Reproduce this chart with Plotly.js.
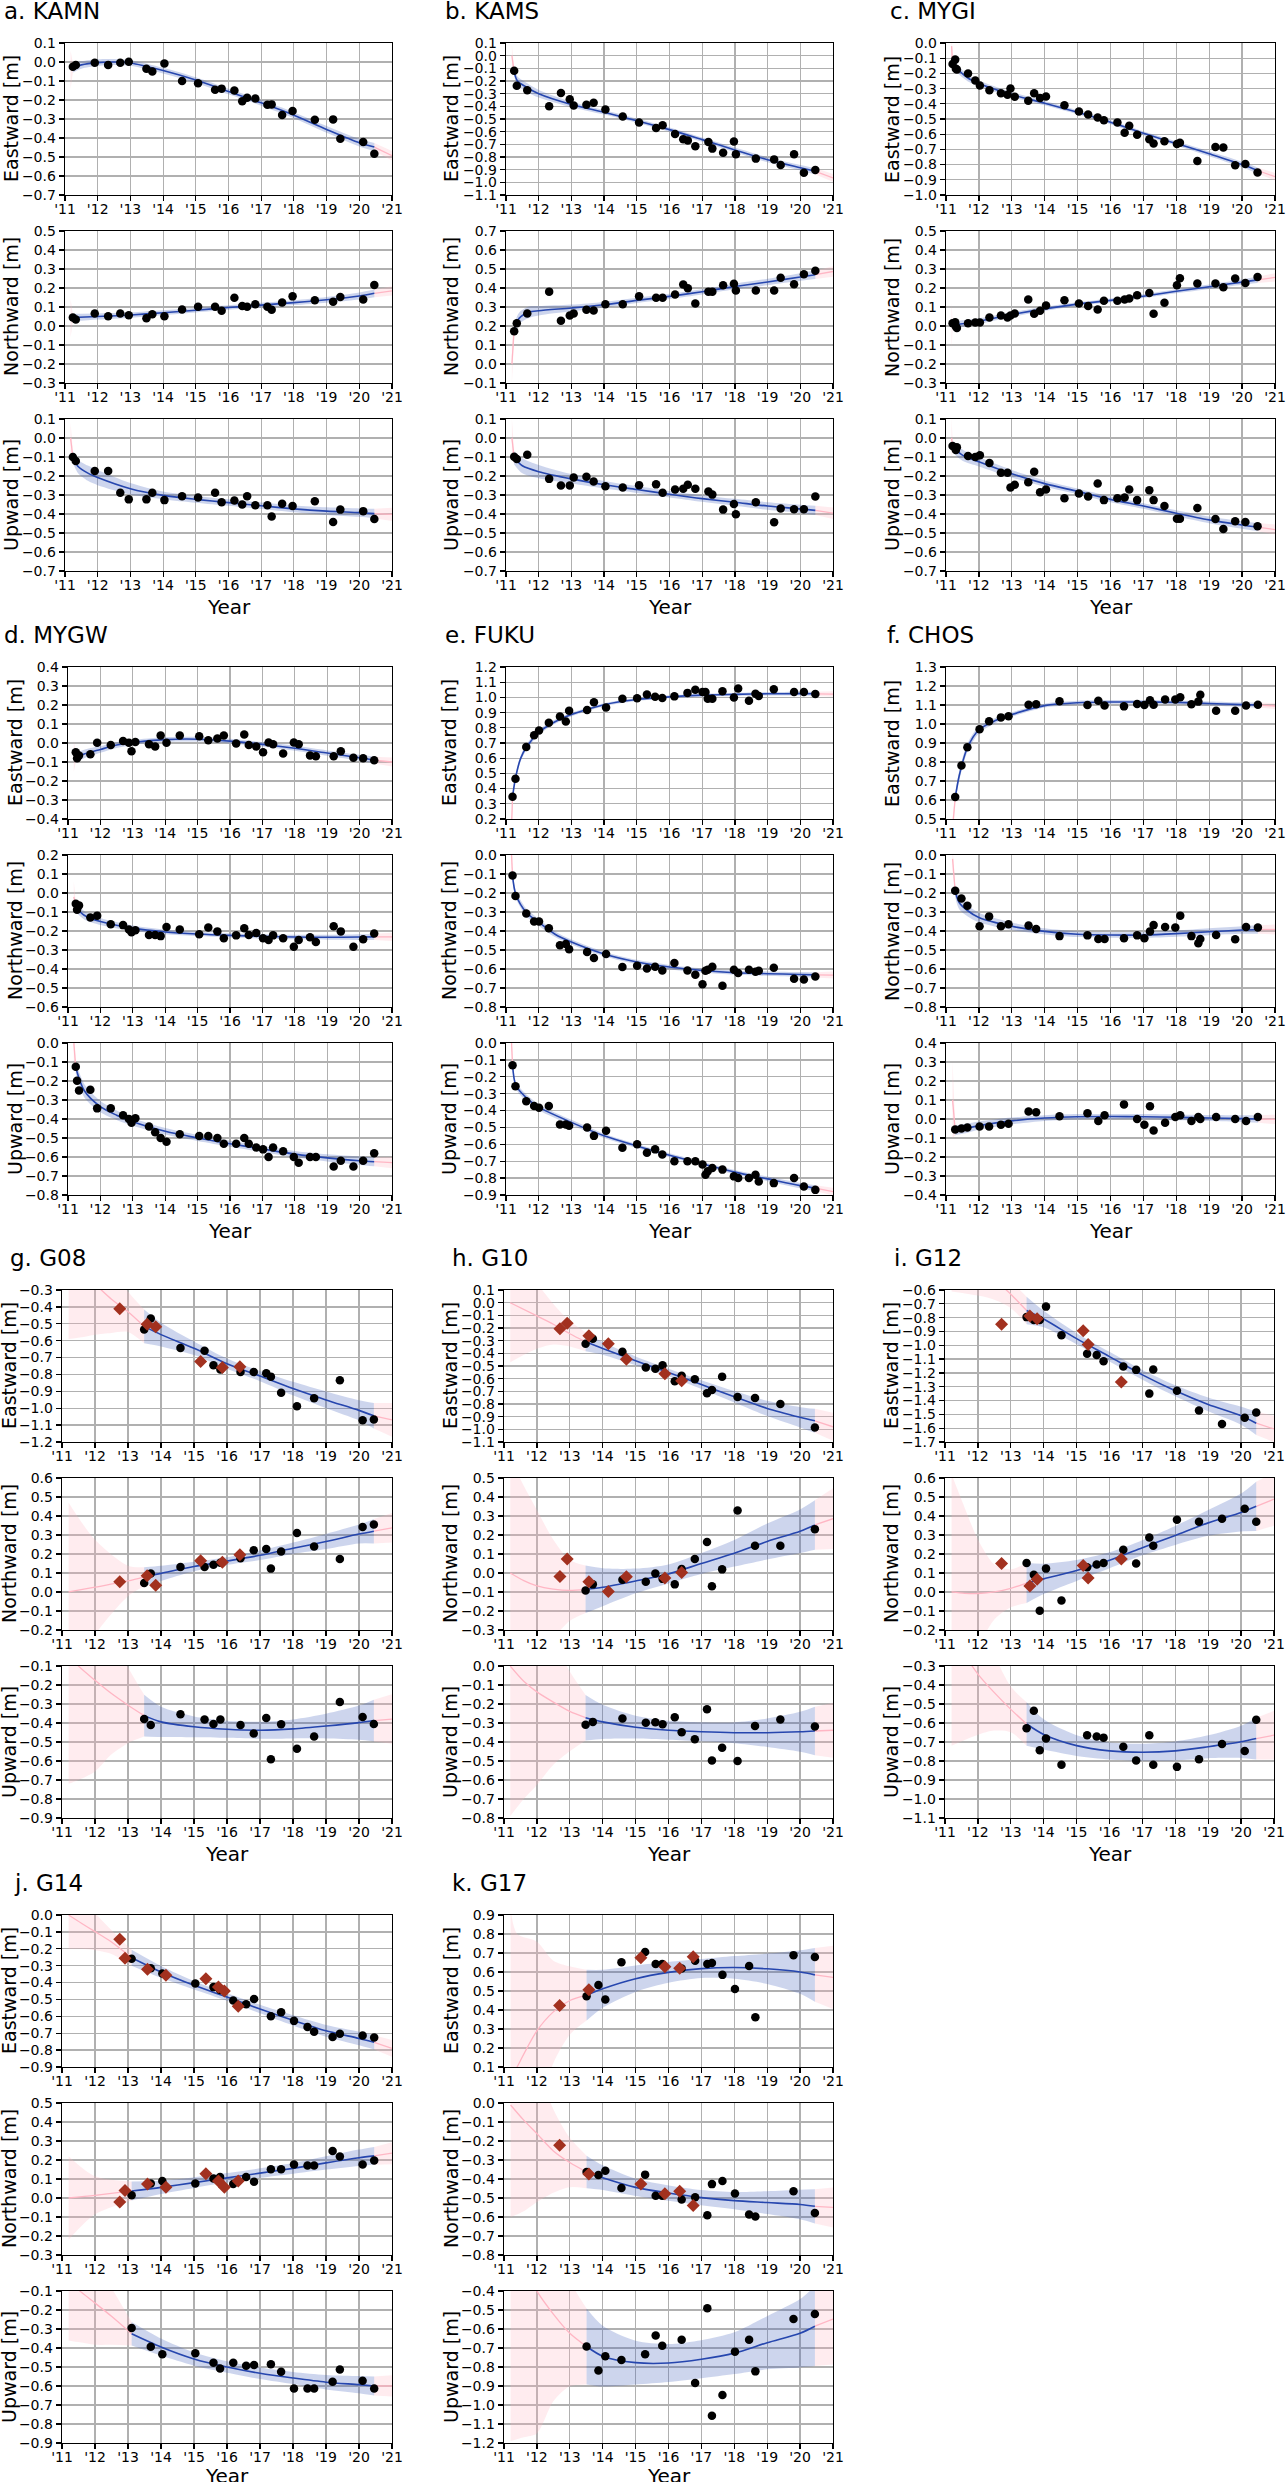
<!DOCTYPE html>
<html>
<head>
<meta charset="utf-8">
<script src="https://cdn.plot.ly/plotly-3.0.1.min.js"></script>
<style>
  html, body { margin: 0; padding: 0; background: #fff; }
  #chart { width: 1286px; height: 2482px; }
</style>
</head>
<body>
<div id="chart"></div>
<script>
// ---- observation epochs (decimal year) and displacements [m] ----
const kamnT = [2011.24, 2011.33, 2011.91, 2012.32, 2012.69, 2012.95, 2013.49, 2013.67, 2014.04, 2014.58, 2015.07, 2015.59, 2015.79, 2016.18, 2016.42, 2016.57, 2016.82, 2017.19, 2017.32, 2017.64, 2017.96, 2018.64, 2019.20, 2019.42, 2020.12, 2020.46];
const kamnE = [-0.025, -0.015, -0.004, -0.015, -0.004, 0.002, -0.035, -0.05, -0.008, -0.1, -0.112, -0.146, -0.14, -0.15, -0.206, -0.188, -0.192, -0.225, -0.223, -0.279, -0.258, -0.304, -0.302, -0.404, -0.421, -0.483];
const kamnN = [0.045, 0.034, 0.066, 0.051, 0.066, 0.056, 0.041, 0.062, 0.051, 0.087, 0.101, 0.101, 0.08, 0.149, 0.105, 0.101, 0.114, 0.101, 0.085, 0.124, 0.156, 0.135, 0.128, 0.153, 0.139, 0.216];
const kamnU = [-0.1, -0.121, -0.173, -0.173, -0.288, -0.323, -0.323, -0.288, -0.327, -0.306, -0.313, -0.288, -0.338, -0.329, -0.35, -0.306, -0.354, -0.354, -0.413, -0.346, -0.358, -0.333, -0.442, -0.377, -0.385, -0.427];

const kamsT = [2011.25, 2011.33, 2011.65, 2012.32, 2012.68, 2012.95, 2013.07, 2013.46, 2013.68, 2014.04, 2014.57, 2015.07, 2015.59, 2015.79, 2016.17, 2016.42, 2016.56, 2016.79, 2017.19, 2017.31, 2017.64, 2017.97, 2018.03, 2018.64, 2019.20, 2019.40, 2019.81, 2020.11, 2020.46];
const kamsE = [-0.119, -0.238, -0.272, -0.4, -0.294, -0.344, -0.394, -0.388, -0.372, -0.425, -0.481, -0.528, -0.572, -0.55, -0.619, -0.659, -0.669, -0.716, -0.681, -0.734, -0.766, -0.678, -0.778, -0.813, -0.819, -0.863, -0.778, -0.925, -0.903];
const kamsN = [0.172, 0.214, 0.266, 0.381, 0.228, 0.255, 0.266, 0.285, 0.282, 0.314, 0.314, 0.356, 0.349, 0.349, 0.366, 0.418, 0.399, 0.318, 0.381, 0.381, 0.414, 0.422, 0.387, 0.387, 0.387, 0.454, 0.42, 0.472, 0.491];
const kamsU = [-0.098, -0.11, -0.088, -0.215, -0.25, -0.25, -0.208, -0.204, -0.229, -0.254, -0.26, -0.248, -0.244, -0.288, -0.271, -0.267, -0.246, -0.267, -0.281, -0.298, -0.377, -0.348, -0.402, -0.338, -0.444, -0.371, -0.375, -0.375, -0.308];

const mygiT = [2011.20, 2011.28, 2011.30, 2011.33, 2011.67, 2011.89, 2012.03, 2012.32, 2012.67, 2012.87, 2012.96, 2013.09, 2013.50, 2013.68, 2013.86, 2014.04, 2014.60, 2015.04, 2015.32, 2015.61, 2015.80, 2016.21, 2016.43, 2016.57, 2016.81, 2017.18, 2017.31, 2017.64, 2018.02, 2018.11, 2018.64, 2019.19, 2019.43, 2019.79, 2020.10, 2020.47];
const mygiE = [-0.138, -0.109, -0.169, -0.174, -0.2, -0.247, -0.279, -0.31, -0.331, -0.341, -0.299, -0.354, -0.38, -0.331, -0.362, -0.352, -0.409, -0.451, -0.471, -0.49, -0.508, -0.523, -0.591, -0.544, -0.604, -0.633, -0.661, -0.646, -0.664, -0.656, -0.776, -0.685, -0.688, -0.805, -0.797, -0.852];
const mygiN = [0.014, 0.02, -0.003, -0.011, 0.014, 0.018, 0.018, 0.045, 0.055, 0.045, 0.055, 0.066, 0.139, 0.064, 0.08, 0.108, 0.135, 0.118, 0.105, 0.087, 0.133, 0.133, 0.139, 0.145, 0.162, 0.174, 0.064, 0.122, 0.214, 0.252, 0.224, 0.224, 0.204, 0.25, 0.227, 0.258];
const mygiU = [-0.042, -0.052, -0.063, -0.048, -0.094, -0.1, -0.09, -0.131, -0.183, -0.183, -0.26, -0.246, -0.233, -0.177, -0.285, -0.271, -0.317, -0.292, -0.308, -0.24, -0.327, -0.317, -0.313, -0.271, -0.327, -0.275, -0.327, -0.358, -0.425, -0.425, -0.369, -0.427, -0.479, -0.438, -0.442, -0.465];

const mygwT = [2011.24, 2011.28, 2011.34, 2011.69, 2011.90, 2012.32, 2012.70, 2012.88, 2012.96, 2013.08, 2013.50, 2013.69, 2013.86, 2014.04, 2014.45, 2015.05, 2015.33, 2015.61, 2015.81, 2016.19, 2016.44, 2016.58, 2016.81, 2017.02, 2017.19, 2017.33, 2017.64, 2017.97, 2018.12, 2018.47, 2018.65, 2019.20, 2019.42, 2019.81, 2020.11, 2020.45];
const mygwE = [-0.049, -0.08, -0.066, -0.059, 0.001, -0.011, 0.01, 0.001, -0.043, 0.005, -0.007, -0.018, 0.039, 0.001, 0.039, 0.035, 0.014, 0.024, 0.039, -0.003, 0.045, -0.011, -0.018, -0.049, 0.003, -0.007, -0.055, 0.003, -0.007, -0.066, -0.07, -0.07, -0.043, -0.078, -0.08, -0.091];
const mygwN = [-0.056, -0.088, -0.065, -0.129, -0.119, -0.165, -0.169, -0.192, -0.206, -0.196, -0.221, -0.221, -0.227, -0.179, -0.192, -0.217, -0.181, -0.202, -0.238, -0.223, -0.185, -0.221, -0.21, -0.238, -0.248, -0.223, -0.238, -0.283, -0.248, -0.233, -0.258, -0.175, -0.202, -0.283, -0.244, -0.213];
const mygwU = [-0.125, -0.198, -0.25, -0.246, -0.344, -0.344, -0.38, -0.40, -0.42, -0.396, -0.44, -0.47, -0.50, -0.52, -0.48, -0.49, -0.49, -0.50, -0.53, -0.53, -0.50, -0.53, -0.55, -0.56, -0.60, -0.55, -0.57, -0.60, -0.63, -0.60, -0.60, -0.65, -0.62, -0.65, -0.62, -0.58];

const fukuT = [2011.20, 2011.29, 2011.62, 2011.86, 2012.01, 2012.31, 2012.65, 2012.83, 2012.93, 2013.48, 2013.69, 2014.06, 2014.56, 2015.01, 2015.31, 2015.56, 2015.78, 2016.15, 2016.55, 2016.79, 2017.01, 2017.10, 2017.17, 2017.31, 2017.62, 2017.97, 2018.10, 2018.43, 2018.63, 2018.73, 2019.19, 2019.81, 2020.11, 2020.46];
const fukuE = [0.346, 0.464, 0.673, 0.751, 0.782, 0.834, 0.874, 0.842, 0.913, 0.918, 0.968, 0.934, 0.991, 0.994, 1.02, 1.004, 0.996, 1.007, 1.03, 1.051, 1.036, 1.036, 0.991, 0.991, 1.041, 0.999, 1.059, 0.978, 1.025, 1.009, 1.054, 1.036, 1.036, 1.022];
const fukuN = [-0.108, -0.215, -0.308, -0.35, -0.35, -0.385, -0.475, -0.469, -0.496, -0.51, -0.542, -0.521, -0.59, -0.583, -0.598, -0.588, -0.608, -0.569, -0.608, -0.631, -0.681, -0.61, -0.604, -0.588, -0.688, -0.604, -0.621, -0.604, -0.615, -0.61, -0.594, -0.652, -0.656, -0.64];
const fukuU = [-0.131, -0.256, -0.345, -0.373, -0.384, -0.373, -0.483, -0.483, -0.49, -0.50, -0.55, -0.52, -0.62, -0.60, -0.65, -0.63, -0.66, -0.70, -0.70, -0.70, -0.72, -0.78, -0.76, -0.74, -0.75, -0.79, -0.80, -0.80, -0.78, -0.82, -0.83, -0.80, -0.85, -0.87];

const chosT = [2011.28, 2011.47, 2011.65, 2012.02, 2012.31, 2012.67, 2012.90, 2013.51, 2013.74, 2014.45, 2015.30, 2015.63, 2015.82, 2016.41, 2016.81, 2017.03, 2017.20, 2017.31, 2017.66, 2017.97, 2018.12, 2018.46, 2018.67, 2018.73, 2019.21, 2019.79, 2020.12, 2020.48];
const chosE = [0.615, 0.782, 0.878, 0.972, 1.014, 1.035, 1.041, 1.102, 1.104, 1.12, 1.1, 1.123, 1.097, 1.093, 1.106, 1.1, 1.125, 1.102, 1.129, 1.129, 1.141, 1.104, 1.118, 1.154, 1.07, 1.07, 1.097, 1.102];
const chosN = [-0.188, -0.229, -0.267, -0.375, -0.323, -0.375, -0.365, -0.371, -0.39, -0.427, -0.423, -0.442, -0.442, -0.438, -0.423, -0.438, -0.402, -0.369, -0.379, -0.381, -0.319, -0.427, -0.465, -0.442, -0.421, -0.444, -0.379, -0.381];
const chosU = [-0.055, -0.05, -0.045, -0.04, -0.04, -0.03, -0.025, 0.04, 0.035, 0.015, 0.03, -0.01, 0.02, 0.077, 0.0, -0.03, 0.067, -0.06, -0.02, 0.01, 0.02, -0.01, 0.01, 0.0, 0.01, 0.0, -0.01, 0.01];

// GNSS-A sites: black = campaign solutions, red = earlier solutions
const g08T = [2013.49, 2013.69, 2014.59, 2015.32, 2015.59, 2015.80, 2016.41, 2016.81, 2017.19, 2017.33, 2017.64, 2018.12, 2018.64, 2019.42, 2020.11, 2020.45];
const g08E = [-0.534, -0.468, -0.643, -0.66, -0.746, -0.771, -0.786, -0.786, -0.793, -0.813, -0.909, -0.988, -0.941, -0.835, -1.072, -1.067];
const g08N = [0.047, 0.097, 0.132, 0.132, 0.143, 0.154, 0.178, 0.22, 0.226, 0.123, 0.213, 0.311, 0.239, 0.174, 0.342, 0.355];
const g08U = [-0.379, -0.411, -0.354, -0.381, -0.405, -0.381, -0.411, -0.455, -0.374, -0.591, -0.407, -0.536, -0.471, -0.289, -0.368, -0.405];
const g08Td = [2012.75, 2013.58, 2013.84, 2015.20, 2015.86, 2016.39];
const g08Ed = [-0.411, -0.502, -0.517, -0.724, -0.759, -0.754];
const g08Nd = [0.054, 0.086, 0.036, 0.165, 0.156, 0.196];

const g10T = [2013.48, 2013.70, 2014.60, 2015.31, 2015.60, 2015.82, 2016.19, 2016.40, 2016.80, 2017.17, 2017.32, 2017.63, 2018.10, 2018.63, 2019.40, 2020.45];
const g10E = [-0.324, -0.285, -0.387, -0.512, -0.522, -0.495, -0.62, -0.578, -0.604, -0.716, -0.689, -0.584, -0.745, -0.752, -0.801, -0.986];
const g10N = [-0.092, -0.06, -0.036, -0.046, -0.003, -0.031, -0.06, 0.021, 0.074, 0.163, -0.07, 0.019, 0.329, 0.144, 0.144, 0.231];
const g10U = [-0.309, -0.294, -0.276, -0.298, -0.296, -0.307, -0.27, -0.349, -0.386, -0.228, -0.498, -0.43, -0.5, -0.316, -0.281, -0.318];
const g10Td = [2012.70, 2012.92, 2013.58, 2014.17, 2014.72, 2015.89, 2016.40];
const g10Ed = [-0.206, -0.163, -0.262, -0.324, -0.446, -0.561, -0.617];
const g10Nd = [-0.018, 0.074, -0.046, -0.097, -0.02, -0.027, 0.002];

const g12T = [2013.48, 2013.70, 2013.88, 2014.07, 2014.54, 2015.32, 2015.61, 2015.82, 2016.42, 2016.81, 2017.21, 2017.33, 2018.05, 2018.72, 2019.42, 2020.11, 2020.46];
const g12E = [-0.796, -0.817, -0.817, -0.72, -0.928, -1.061, -1.07, -1.115, -1.154, -1.178, -1.35, -1.175, -1.329, -1.473, -1.57, -1.525, -1.486];
const g12N = [0.152, 0.091, -0.099, 0.123, -0.045, 0.13, 0.145, 0.152, 0.222, 0.15, 0.287, 0.244, 0.381, 0.37, 0.386, 0.438, 0.37];
const g12U = [-0.627, -0.535, -0.743, -0.682, -0.82, -0.664, -0.671, -0.677, -0.725, -0.798, -0.664, -0.82, -0.831, -0.791, -0.71, -0.747, -0.583];
const g12Td = [2012.72, 2013.58, 2013.80, 2015.20, 2015.35, 2016.36];
const g12Ed = [-0.847, -0.787, -0.808, -0.895, -0.995, -1.266];
const g12Nd = [0.15, 0.032, 0.067, 0.139, 0.073, 0.174];

const g14T = [2013.11, 2013.69, 2014.04, 2015.04, 2015.59, 2015.79, 2016.19, 2016.58, 2016.82, 2017.33, 2017.64, 2018.03, 2018.44, 2018.64, 2019.20, 2019.42, 2020.11, 2020.46];
const g14E = [-0.259, -0.315, -0.346, -0.405, -0.427, -0.444, -0.506, -0.529, -0.498, -0.599, -0.576, -0.627, -0.664, -0.692, -0.723, -0.703, -0.714, -0.726];
const g14N = [0.014, 0.076, 0.089, 0.076, 0.103, 0.111, 0.074, 0.111, 0.086, 0.151, 0.151, 0.176, 0.171, 0.171, 0.248, 0.218, 0.176, 0.198];
const g14U = [-0.295, -0.393, -0.433, -0.428, -0.478, -0.508, -0.478, -0.493, -0.49, -0.485, -0.525, -0.613, -0.613, -0.613, -0.578, -0.513, -0.573, -0.613];
const g14Td = [2012.75, 2012.91, 2013.59, 2014.15, 2015.36, 2015.74, 2015.92, 2016.34];
const g14Ed = [-0.143, -0.256, -0.321, -0.357, -0.377, -0.427, -0.45, -0.54];
const g14Nd = [-0.021, 0.039, 0.074, 0.056, 0.128, 0.089, 0.056, 0.089];

const g17T = [2013.51, 2013.87, 2014.08, 2014.57, 2015.29, 2015.61, 2015.81, 2016.40, 2016.81, 2017.18, 2017.32, 2017.64, 2018.02, 2018.45, 2018.64, 2019.80, 2020.45];
const g17E = [0.472, 0.532, 0.455, 0.652, 0.705, 0.642, 0.642, 0.618, 0.66, 0.642, 0.648, 0.585, 0.51, 0.632, 0.362, 0.689, 0.679];
const g17N = [-0.363, -0.379, -0.357, -0.448, -0.377, -0.488, -0.488, -0.508, -0.496, -0.591, -0.427, -0.411, -0.476, -0.587, -0.597, -0.464, -0.579];
const g17U = [-0.692, -0.819, -0.743, -0.763, -0.733, -0.634, -0.688, -0.656, -0.884, -0.491, -1.057, -0.948, -0.719, -0.656, -0.823, -0.547, -0.521];
const g17Td = [2012.69, 2013.58, 2015.16, 2015.89, 2016.34, 2016.75];
const g17Ed = [0.423, 0.506, 0.675, 0.628, 0.62, 0.681];
const g17Nd = [-0.222, -0.373, -0.427, -0.478, -0.464, -0.54];

// ---- fitted curves: knot epochs, values, 1-sigma half widths ----
const kamnEfx = [2011.17, 2011.24, 2011.5, 2012, 2012.5, 2013, 2014, 2015, 2016, 2017, 2018, 2019, 2020, 2020.46, 2021];
const kamnEfy = [-0.04, -0.03, -0.015, -0.003, 0.0, -0.005, -0.045, -0.095, -0.155, -0.215, -0.28, -0.355, -0.425, -0.448, -0.493];
const kamnEfw = [0.1, 0.025, 0.02, 0.018, 0.016, 0.015, 0.015, 0.015, 0.015, 0.015, 0.016, 0.018, 0.02, 0.022, 0.025];
const kamnNfx = [2011.17, 2011.24, 2012, 2013, 2014, 2015, 2016, 2017, 2018, 2019, 2020, 2020.46, 2021];
const kamnNfy = [0.04, 0.045, 0.05, 0.058, 0.07, 0.083, 0.097, 0.11, 0.123, 0.138, 0.158, 0.172, 0.185];
const kamnNfw = [0.1, 0.02, 0.016, 0.014, 0.013, 0.012, 0.012, 0.012, 0.013, 0.015, 0.018, 0.02, 0.024];
const kamnUfx = [2011.17, 2011.24, 2011.4, 2011.7, 2012, 2013, 2014, 2015, 2016, 2017, 2018, 2019, 2020, 2020.46, 2021];
const kamnUfy = [0.0, -0.1, -0.15, -0.185, -0.208, -0.267, -0.302, -0.323, -0.34, -0.357, -0.373, -0.385, -0.393, -0.398, -0.402];
const kamnUfw = [0.08, 0.03, 0.035, 0.04, 0.04, 0.03, 0.02, 0.018, 0.017, 0.017, 0.018, 0.02, 0.022, 0.025, 0.035];

const kamsEfx = [2011.18, 2011.25, 2011.35, 2011.6, 2012, 2013, 2014, 2015, 2016, 2017, 2018, 2019, 2020, 2020.46, 2021];
const kamsEfy = [0.0, -0.13, -0.2, -0.245, -0.3, -0.385, -0.447, -0.513, -0.584, -0.663, -0.744, -0.822, -0.885, -0.913, -0.965];
const kamsEfw = [0.08, 0.03, 0.035, 0.035, 0.03, 0.022, 0.018, 0.016, 0.016, 0.016, 0.018, 0.02, 0.022, 0.025, 0.03];
const kamsNfx = [2011.18, 2011.25, 2011.4, 2011.7, 2012, 2013, 2014, 2015, 2016, 2017, 2018, 2019, 2020, 2020.46, 2021];
const kamsNfy = [0.0, 0.18, 0.24, 0.272, 0.28, 0.295, 0.312, 0.335, 0.356, 0.38, 0.408, 0.432, 0.458, 0.47, 0.487];
const kamsNfw = [0.1, 0.03, 0.03, 0.03, 0.025, 0.018, 0.015, 0.014, 0.014, 0.014, 0.015, 0.017, 0.02, 0.022, 0.028];
const kamsUfx = [2011.18, 2011.25, 2011.5, 2012, 2013, 2014, 2015, 2016, 2017, 2018, 2019, 2020, 2020.46, 2021];
const kamsUfy = [0.0, -0.104, -0.146, -0.177, -0.215, -0.246, -0.271, -0.296, -0.319, -0.338, -0.358, -0.373, -0.381, -0.396];
const kamsUfw = [0.1, 0.035, 0.04, 0.035, 0.025, 0.02, 0.018, 0.017, 0.017, 0.018, 0.02, 0.022, 0.025, 0.03];

const mygiEfx = [2011.17, 2011.2, 2011.4, 2011.7, 2012, 2013, 2014, 2015, 2016, 2017, 2018, 2019, 2020, 2020.47, 2021];
const mygiEfy = [-0.02, -0.13, -0.182, -0.235, -0.266, -0.339, -0.396, -0.456, -0.521, -0.594, -0.661, -0.729, -0.8, -0.839, -0.88];
const mygiEfw = [0.1, 0.025, 0.025, 0.022, 0.02, 0.016, 0.014, 0.013, 0.013, 0.013, 0.014, 0.016, 0.018, 0.02, 0.025];
const mygiNfx = [2011.17, 2011.2, 2011.5, 2012, 2013, 2014, 2015, 2016, 2017, 2018, 2019, 2020, 2020.47, 2021];
const mygiNfy = [0.0, 0.005, 0.012, 0.025, 0.06, 0.09, 0.115, 0.135, 0.157, 0.183, 0.207, 0.231, 0.243, 0.256];
const mygiNfw = [0.12, 0.02, 0.018, 0.015, 0.012, 0.011, 0.01, 0.01, 0.01, 0.011, 0.012, 0.014, 0.016, 0.022];
const mygiUfx = [2011.17, 2011.2, 2011.5, 2012, 2013, 2014, 2015, 2016, 2017, 2018, 2019, 2020, 2020.47, 2021];
const mygiUfy = [0.0, -0.045, -0.09, -0.125, -0.188, -0.24, -0.281, -0.323, -0.358, -0.396, -0.431, -0.458, -0.469, -0.482];
const mygiUfw = [0.1, 0.03, 0.03, 0.025, 0.02, 0.017, 0.015, 0.015, 0.015, 0.016, 0.018, 0.02, 0.022, 0.026];

const mygwEfx = [2011.18, 2011.24, 2011.5, 2012, 2012.5, 2013, 2014, 2015, 2016, 2017, 2018, 2019, 2020, 2020.45, 2021];
const mygwEfy = [-0.07, -0.078, -0.058, -0.034, -0.011, 0.003, 0.018, 0.02, 0.01, -0.007, -0.028, -0.053, -0.078, -0.09, -0.1];
const mygwEfw = [0.08, 0.025, 0.022, 0.018, 0.015, 0.013, 0.012, 0.012, 0.012, 0.012, 0.013, 0.014, 0.016, 0.018, 0.024];
const mygwNfx = [2011.18, 2011.24, 2011.5, 2012, 2013, 2014, 2015, 2016, 2017, 2018, 2019, 2020, 2020.45, 2021];
const mygwNfy = [-0.02, -0.075, -0.117, -0.15, -0.185, -0.205, -0.216, -0.223, -0.228, -0.232, -0.233, -0.232, -0.231, -0.231];
const mygwNfw = [0.08, 0.025, 0.022, 0.018, 0.014, 0.012, 0.011, 0.011, 0.011, 0.012, 0.013, 0.015, 0.017, 0.022];
const mygwUfx = [2011.18, 2011.24, 2011.5, 2012, 2012.5, 2013, 2014, 2015, 2016, 2017, 2018, 2019, 2020, 2020.45, 2021];
const mygwUfy = [0.0, -0.13, -0.25, -0.335, -0.38, -0.415, -0.465, -0.5, -0.53, -0.558, -0.585, -0.605, -0.62, -0.625, -0.63];
const mygwUfw = [0.1, 0.03, 0.035, 0.03, 0.025, 0.02, 0.017, 0.016, 0.016, 0.016, 0.017, 0.019, 0.022, 0.024, 0.03];

const fukuEfx = [2011.17, 2011.2, 2011.29, 2011.45, 2011.65, 2012, 2012.5, 2013, 2014, 2015, 2016, 2017, 2018, 2019, 2020, 2020.46, 2021];
const fukuEfy = [0.15, 0.346, 0.469, 0.6, 0.68, 0.769, 0.84, 0.887, 0.952, 0.986, 1.004, 1.015, 1.02, 1.024, 1.025, 1.024, 1.022];
const fukuEfw = [0.05, 0.02, 0.02, 0.02, 0.018, 0.016, 0.014, 0.012, 0.01, 0.01, 0.01, 0.01, 0.01, 0.011, 0.013, 0.014, 0.018];
const fukuNfx = [2011.17, 2011.2, 2011.3, 2011.62, 2012, 2012.5, 2013, 2014, 2015, 2016, 2017, 2018, 2019, 2020, 2020.46, 2021];
const fukuNfy = [0.0, -0.11, -0.208, -0.302, -0.354, -0.417, -0.458, -0.521, -0.563, -0.59, -0.608, -0.62, -0.625, -0.629, -0.631, -0.632];
const fukuNfw = [0.05, 0.02, 0.02, 0.02, 0.018, 0.015, 0.013, 0.012, 0.011, 0.011, 0.011, 0.011, 0.012, 0.013, 0.014, 0.018];
const fukuUfx = [2011.17, 2011.2, 2011.3, 2011.6, 2012, 2013, 2014, 2015, 2016, 2017, 2018, 2019, 2020, 2020.46, 2021];
const fukuUfy = [0.0, -0.13, -0.25, -0.32, -0.38, -0.47, -0.55, -0.61, -0.665, -0.715, -0.765, -0.805, -0.845, -0.86, -0.88];
const fukuUfw = [0.05, 0.02, 0.02, 0.02, 0.018, 0.015, 0.013, 0.012, 0.012, 0.012, 0.013, 0.014, 0.016, 0.018, 0.022];

const chosEfx = [2011.2, 2011.28, 2011.4, 2011.65, 2012, 2012.5, 2013, 2014, 2015, 2016, 2017, 2018, 2019, 2020, 2020.48, 2021];
const chosEfy = [0.45, 0.611, 0.726, 0.875, 0.97, 1.018, 1.05, 1.097, 1.112, 1.116, 1.116, 1.114, 1.108, 1.102, 1.1, 1.095];
const chosEfw = [0.06, 0.02, 0.025, 0.022, 0.018, 0.014, 0.012, 0.01, 0.01, 0.01, 0.01, 0.01, 0.011, 0.012, 0.013, 0.016];
const chosNfx = [2011.2, 2011.28, 2011.4, 2011.65, 2012, 2013, 2014, 2015, 2016, 2017, 2018, 2019, 2020, 2020.48, 2021];
const chosNfy = [-0.02, -0.192, -0.25, -0.292, -0.329, -0.375, -0.402, -0.417, -0.421, -0.421, -0.414, -0.404, -0.395, -0.392, -0.392];
const chosNfw = [0.06, 0.03, 0.035, 0.03, 0.025, 0.02, 0.016, 0.015, 0.015, 0.015, 0.016, 0.018, 0.02, 0.022, 0.026];
const chosUfx = [2011.2, 2011.28, 2011.6, 2012, 2013, 2014, 2015, 2016, 2017, 2018, 2019, 2020, 2020.48, 2021];
const chosUfy = [0.1, -0.06, -0.05, -0.035, -0.01, 0.005, 0.012, 0.013, 0.012, 0.009, 0.005, 0.002, 0.0, -0.002];
const chosUfw = [0.2, 0.025, 0.025, 0.022, 0.018, 0.015, 0.014, 0.014, 0.014, 0.015, 0.016, 0.018, 0.02, 0.025];

const g08Efx = [2011.2, 2011.6, 2012, 2012.5, 2013, 2013.49, 2014, 2015, 2016, 2017, 2018, 2019, 2020, 2020.45, 2021];
const g08Efy = [-0.13, -0.2, -0.265, -0.354, -0.428, -0.515, -0.564, -0.645, -0.736, -0.81, -0.884, -0.951, -1.013, -1.045, -1.069];
const g08Efw = [0.46, 0.38, 0.3, 0.2, 0.12, 0.1, 0.07, 0.04, 0.03, 0.03, 0.04, 0.05, 0.06, 0.075, 0.1];
const g08Nfx = [2011.2, 2012, 2013, 2013.49, 2014, 2015, 2016, 2017, 2018, 2019, 2020, 2020.45, 2021];
const g08Nfy = [0.0, 0.025, 0.058, 0.08, 0.098, 0.134, 0.163, 0.193, 0.23, 0.266, 0.305, 0.32, 0.338];
const g08Nfw = [0.47, 0.25, 0.08, 0.05, 0.04, 0.025, 0.02, 0.025, 0.03, 0.04, 0.05, 0.065, 0.078];
const g08Ufx = [2011.2, 2011.5, 2012, 2012.5, 2013, 2013.49, 2014, 2015, 2016, 2017, 2018, 2019, 2020, 2020.45, 2021];
const g08Ufy = [-0.04, -0.1, -0.175, -0.245, -0.306, -0.361, -0.394, -0.42, -0.433, -0.438, -0.431, -0.416, -0.398, -0.387, -0.379];
const g08Ufw = [0.68, 0.6, 0.48, 0.32, 0.2, 0.11, 0.08, 0.055, 0.045, 0.045, 0.05, 0.065, 0.09, 0.11, 0.13];

const g10Efx = [2011.19, 2012, 2012.5, 2013, 2013.48, 2014, 2015, 2016, 2017, 2018, 2019, 2020, 2020.45, 2021];
const g10Efy = [0.0, -0.104, -0.17, -0.245, -0.308, -0.361, -0.459, -0.551, -0.647, -0.743, -0.835, -0.905, -0.933, -0.98];
const g10Efw = [0.47, 0.26, 0.16, 0.1, 0.075, 0.05, 0.035, 0.03, 0.035, 0.045, 0.06, 0.08, 0.095, 0.11];
const g10Nfx = [2011.19, 2011.6, 2012, 2012.5, 2013, 2013.48, 2014, 2015, 2016, 2017, 2018, 2019, 2020, 2020.45, 2021];
const g10Nfy = [0.0, -0.04, -0.068, -0.085, -0.092, -0.086, -0.075, -0.042, -0.005, 0.05, 0.104, 0.166, 0.22, 0.253, 0.286];
const g10Nfw = [0.6, 0.5, 0.4, 0.26, 0.16, 0.125, 0.1, 0.065, 0.05, 0.055, 0.07, 0.095, 0.115, 0.13, 0.16];
const g10Ufx = [2011.19, 2011.6, 2012, 2012.5, 2013, 2013.48, 2014, 2015, 2016, 2017, 2018, 2019, 2020, 2020.45, 2021];
const g10Ufy = [0.0, -0.08, -0.136, -0.19, -0.239, -0.272, -0.294, -0.322, -0.338, -0.346, -0.351, -0.351, -0.346, -0.342, -0.338];
const g10Ufw = [0.79, 0.62, 0.49, 0.33, 0.21, 0.12, 0.09, 0.06, 0.05, 0.05, 0.055, 0.075, 0.105, 0.128, 0.145];

const g12Efx = [2011.2, 2012, 2012.5, 2013, 2013.48, 2014, 2015, 2016, 2017, 2018, 2019, 2020, 2020.46, 2021];
const g12Efy = [-0.15, -0.4, -0.52, -0.63, -0.748, -0.81, -0.952, -1.082, -1.214, -1.329, -1.428, -1.51, -1.564, -1.606];
const g12Efw = [0.46, 0.24, 0.15, 0.1, 0.1, 0.06, 0.04, 0.035, 0.035, 0.04, 0.05, 0.065, 0.085, 0.095];
const g12Nfx = [2011.2, 2011.6, 2012, 2012.5, 2013, 2013.48, 2014, 2015, 2016, 2017, 2018, 2019, 2020, 2020.46, 2021];
const g12Nfy = [0.0, -0.007, -0.008, 0.0, 0.019, 0.047, 0.069, 0.113, 0.167, 0.233, 0.298, 0.364, 0.419, 0.451, 0.489];
const g12Nfw = [0.62, 0.45, 0.285, 0.145, 0.1, 0.105, 0.08, 0.055, 0.042, 0.04, 0.05, 0.068, 0.1, 0.13, 0.14];
const g12Ufx = [2011.2, 2011.6, 2012, 2012.5, 2013, 2013.48, 2014, 2015, 2016, 2017, 2018, 2019, 2020, 2020.46, 2021];
const g12Ufy = [-0.12, -0.24, -0.342, -0.44, -0.528, -0.605, -0.66, -0.719, -0.747, -0.754, -0.747, -0.725, -0.699, -0.682, -0.664];
const g12Ufw = [0.6, 0.45, 0.32, 0.2, 0.12, 0.115, 0.08, 0.055, 0.045, 0.045, 0.05, 0.06, 0.085, 0.11, 0.128];

const g14Efx = [2011.2, 2011.6, 2012, 2012.5, 2013.11, 2014, 2015, 2016, 2017, 2018, 2019, 2020, 2020.46, 2021];
const g14Efy = [0.0, -0.05, -0.098, -0.16, -0.253, -0.337, -0.416, -0.486, -0.557, -0.624, -0.686, -0.731, -0.754, -0.79];
const g14Efw = [0.2, 0.15, 0.11, 0.07, 0.047, 0.035, 0.025, 0.022, 0.025, 0.03, 0.035, 0.04, 0.042, 0.05];
const g14Nfx = [2011.2, 2012, 2013.11, 2014, 2015, 2016, 2017, 2018, 2019, 2020, 2020.46, 2021];
const g14Nfy = [0.0, 0.014, 0.037, 0.056, 0.081, 0.106, 0.131, 0.156, 0.185, 0.212, 0.222, 0.236];
const g14Nfw = [0.22, 0.1, 0.05, 0.035, 0.028, 0.025, 0.025, 0.028, 0.035, 0.043, 0.047, 0.058];
const g14Ufx = [2011.2, 2011.54, 2012, 2012.5, 2013.11, 2014, 2015, 2016, 2017, 2018, 2019, 2020, 2020.46, 2021];
const g14Ufy = [-0.05, -0.1, -0.163, -0.233, -0.325, -0.395, -0.458, -0.5, -0.533, -0.558, -0.58, -0.593, -0.6, -0.6];
const g14Ufw = [0.31, 0.27, 0.22, 0.15, 0.062, 0.045, 0.035, 0.03, 0.03, 0.032, 0.038, 0.045, 0.05, 0.056];

const g17Efx = [2011.2, 2011.4, 2012, 2012.5, 2013, 2013.51, 2014, 2015, 2016, 2017, 2018, 2019, 2020, 2020.45, 2021];
const g17Efy = [0.03, 0.1, 0.29, 0.39, 0.45, 0.478, 0.512, 0.565, 0.598, 0.618, 0.624, 0.617, 0.6, 0.585, 0.572];
const g17Efw = [0.9, 0.7, 0.47, 0.27, 0.18, 0.134, 0.1, 0.07, 0.055, 0.05, 0.06, 0.08, 0.115, 0.142, 0.167];
const g17Nfx = [2011.2, 2011.6, 2012, 2012.5, 2013, 2013.51, 2014, 2015, 2016, 2017, 2018, 2019, 2020, 2020.45, 2021];
const g17Nfy = [-0.01, -0.09, -0.161, -0.252, -0.313, -0.363, -0.393, -0.444, -0.474, -0.498, -0.514, -0.524, -0.534, -0.544, -0.55];
const g17Nfw = [0.59, 0.48, 0.36, 0.22, 0.13, 0.086, 0.065, 0.045, 0.04, 0.04, 0.045, 0.06, 0.078, 0.09, 0.105];
const g17Ufx = [2011.2, 2011.6, 2012, 2012.5, 2013, 2013.51, 2014, 2015, 2016, 2017, 2018, 2019, 2020, 2020.45, 2021];
const g17Ufy = [-0.12, -0.27, -0.4, -0.521, -0.622, -0.692, -0.743, -0.777, -0.779, -0.759, -0.727, -0.672, -0.622, -0.585, -0.547];
const g17Ufw = [1.07, 0.9, 0.75, 0.46, 0.28, 0.2, 0.16, 0.115, 0.1, 0.1, 0.11, 0.14, 0.18, 0.21, 0.24];

const yearTicks = [2011, 2012, 2013, 2014, 2015, 2016, 2017, 2018, 2019, 2020, 2021];
const yearLabels = ["'11", "'12", "'13", "'14", "'15", "'16", "'17", "'18", "'19", "'20", "'21"];
const compLabels = ['Eastward [m]', 'Northward [m]', 'Upward [m]'];

// ---- page layout (pixels) ----
const W = 1286, H = 2482;
const rowTop = [0, 624, 1247, 1872];
const yearOffset = [607, 607, 607, 604];
const compBox = [[43, 195], [231, 383], [419, 571]];

const stations = [
  { title: 'a. KAMN', row: 0, left: 65, right: 392, labelX: 11, titleX: 2, t: kamnT, comps: [
    { y: kamnE, range: [-0.7, 0.1], fx: kamnEfx, fy: kamnEfy, fw: kamnEfw },
    { y: kamnN, range: [-0.3, 0.5], fx: kamnNfx, fy: kamnNfy, fw: kamnNfw },
    { y: kamnU, range: [-0.7, 0.1], fx: kamnUfx, fy: kamnUfy, fw: kamnUfw }] },
  { title: 'b. KAMS', row: 0, left: 506, right: 833, labelX: 451, titleX: 443, t: kamsT, comps: [
    { y: kamsE, range: [-1.1, 0.1], fx: kamsEfx, fy: kamsEfy, fw: kamsEfw },
    { y: kamsN, range: [-0.1, 0.7], fx: kamsNfx, fy: kamsNfy, fw: kamsNfw },
    { y: kamsU, range: [-0.7, 0.1], fx: kamsUfx, fy: kamsUfy, fw: kamsUfw }] },
  { title: 'c. MYGI', row: 0, left: 946, right: 1275, labelX: 892, titleX: 888, t: mygiT, comps: [
    { y: mygiE, range: [-1.0, 0.0], fx: mygiEfx, fy: mygiEfy, fw: mygiEfw },
    { y: mygiN, range: [-0.3, 0.5], fx: mygiNfx, fy: mygiNfy, fw: mygiNfw },
    { y: mygiU, range: [-0.7, 0.1], fx: mygiUfx, fy: mygiUfy, fw: mygiUfw }] },
  { title: 'd. MYGW', row: 1, left: 68, right: 392, labelX: 15, titleX: 2, t: mygwT, comps: [
    { y: mygwE, range: [-0.4, 0.4], fx: mygwEfx, fy: mygwEfy, fw: mygwEfw },
    { y: mygwN, range: [-0.6, 0.2], fx: mygwNfx, fy: mygwNfy, fw: mygwNfw },
    { y: mygwU, range: [-0.8, 0.0], fx: mygwUfx, fy: mygwUfy, fw: mygwUfw }] },
  { title: 'e. FUKU', row: 1, left: 506, right: 833, labelX: 449, titleX: 443, t: fukuT, comps: [
    { y: fukuE, range: [0.2, 1.2], fx: fukuEfx, fy: fukuEfy, fw: fukuEfw },
    { y: fukuN, range: [-0.8, 0.0], fx: fukuNfx, fy: fukuNfy, fw: fukuNfw },
    { y: fukuU, range: [-0.9, 0.0], fx: fukuUfx, fy: fukuUfy, fw: fukuUfw }] },
  { title: 'f. CHOS', row: 1, left: 946, right: 1275, labelX: 892, titleX: 885, t: chosT, comps: [
    { y: chosE, range: [0.5, 1.3], fx: chosEfx, fy: chosEfy, fw: chosEfw },
    { y: chosN, range: [-0.8, 0.0], fx: chosNfx, fy: chosNfy, fw: chosNfw },
    { y: chosU, range: [-0.4, 0.4], fx: chosUfx, fy: chosUfy, fw: chosUfw }] },
  { title: 'g. G08', row: 2, left: 62, right: 392, labelX: 9, titleX: 8, t: g08T, td: g08Td, comps: [
    { y: g08E, yd: g08Ed, range: [-1.2, -0.3], fx: g08Efx, fy: g08Efy, fw: g08Efw },
    { y: g08N, yd: g08Nd, range: [-0.2, 0.6], fx: g08Nfx, fy: g08Nfy, fw: g08Nfw },
    { y: g08U, range: [-0.9, -0.1], fx: g08Ufx, fy: g08Ufy, fw: g08Ufw }] },
  { title: 'h. G10', row: 2, left: 504, right: 833, labelX: 450, titleX: 450, t: g10T, td: g10Td, comps: [
    { y: g10E, yd: g10Ed, range: [-1.1, 0.1], fx: g10Efx, fy: g10Efy, fw: g10Efw },
    { y: g10N, yd: g10Nd, range: [-0.3, 0.5], fx: g10Nfx, fy: g10Nfy, fw: g10Nfw },
    { y: g10U, range: [-0.8, 0.0], fx: g10Ufx, fy: g10Ufy, fw: g10Ufw }] },
  { title: 'i. G12', row: 2, left: 945, right: 1274, labelX: 891, titleX: 892, t: g12T, td: g12Td, comps: [
    { y: g12E, yd: g12Ed, range: [-1.7, -0.6], fx: g12Efx, fy: g12Efy, fw: g12Efw },
    { y: g12N, yd: g12Nd, range: [-0.2, 0.6], fx: g12Nfx, fy: g12Nfy, fw: g12Nfw },
    { y: g12U, range: [-1.1, -0.3], fx: g12Ufx, fy: g12Ufy, fw: g12Ufw }] },
  { title: 'j. G14', row: 3, left: 62, right: 392, labelX: 9, titleX: 12, t: g14T, td: g14Td, comps: [
    { y: g14E, yd: g14Ed, range: [-0.9, 0.0], fx: g14Efx, fy: g14Efy, fw: g14Efw },
    { y: g14N, yd: g14Nd, range: [-0.3, 0.5], fx: g14Nfx, fy: g14Nfy, fw: g14Nfw },
    { y: g14U, range: [-0.9, -0.1], fx: g14Ufx, fy: g14Ufy, fw: g14Ufw }] },
  { title: 'k. G17', row: 3, left: 504, right: 833, labelX: 451, titleX: 450, t: g17T, td: g17Td, comps: [
    { y: g17E, yd: g17Ed, range: [0.1, 0.9], fx: g17Efx, fy: g17Efy, fw: g17Efw },
    { y: g17N, yd: g17Nd, range: [-0.8, 0.0], fx: g17Nfx, fy: g17Nfy, fw: g17Nfw },
    { y: g17U, range: [-1.2, -0.4], fx: g17Ufx, fy: g17Ufy, fw: g17Ufw }] }
];

const BLUE = '#2646ae';
const BLUE_BAND = 'rgba(70,100,190,0.27)';
const PINK = '#ffb6c4';
const PINK_BAND = 'rgba(255,182,193,0.26)';
const RED = '#a2311f';

const px = v => v / W;
const py = v => 1 - v / H;

const axisBase = {
  showgrid: true, gridcolor: '#b0b0b0', gridwidth: 1.2,
  showline: true, linecolor: 'black', linewidth: 1.3, mirror: true,
  ticks: 'outside', ticklen: 5, tickwidth: 1.2, tickcolor: 'black',
  tickfont: { size: 14, color: 'black' },
  zeroline: false, fixedrange: true
};

const traces = [];
const layout = {
  width: W, height: H,
  margin: { l: 0, r: 0, t: 0, b: 0 },
  paper_bgcolor: 'white', plot_bgcolor: 'white',
  showlegend: false,
  font: { family: 'DejaVu Sans', color: 'black' },
  annotations: []
};

function pick(c, lo, hi) {
  const xs = [], ys = [], ws = [];
  c.fx.forEach((v, i) => {
    if (v >= lo - 1e-6 && v <= hi + 1e-6) { xs.push(v); ys.push(c.fy[i]); ws.push(c.fw[i]); }
  });
  return { xs, ys, ws };
}

function band(seg, color, xa, ya) {
  if (seg.xs.length < 2) return;
  const ln = { width: 0, shape: 'spline', smoothing: 0.8 };
  traces.push({ x: seg.xs, y: seg.ys.map((v, i) => v - seg.ws[i]), mode: 'lines', line: ln, xaxis: xa, yaxis: ya, hoverinfo: 'skip' });
  traces.push({ x: seg.xs, y: seg.ys.map((v, i) => v + seg.ws[i]), mode: 'lines', line: ln, fill: 'tonexty', fillcolor: color, xaxis: xa, yaxis: ya, hoverinfo: 'skip' });
}

function curve(seg, color, width, xa, ya) {
  if (seg.xs.length < 2) return;
  traces.push({ x: seg.xs, y: seg.ys, mode: 'lines', line: { color: color, width: width, shape: 'spline', smoothing: 0.8 }, xaxis: xa, yaxis: ya, hoverinfo: 'skip' });
}

let n = 0;
stations.forEach(st => {
  const T = rowTop[st.row];
  const t0 = st.t[0], t1 = st.t[st.t.length - 1];

  layout.annotations.push({
    text: st.title, xref: 'paper', yref: 'paper', x: px(st.titleX), y: py(T + 11),
    xanchor: 'left', yanchor: 'middle', showarrow: false, font: { size: 23, color: 'black' }
  });
  layout.annotations.push({
    text: 'Year', xref: 'paper', yref: 'paper', x: px((st.left + st.right) / 2), y: py(T + yearOffset[st.row]),
    xanchor: 'center', yanchor: 'middle', showarrow: false, font: { size: 20, color: 'black' }
  });

  st.comps.forEach((c, k) => {
    n += 1;
    const sfx = n === 1 ? '' : String(n);
    const xa = 'x' + sfx, ya = 'y' + sfx;
    const top = T + compBox[k][0], bot = T + compBox[k][1];

    layout['xaxis' + sfx] = Object.assign({}, axisBase, {
      domain: [px(st.left), px(st.right)], anchor: ya,
      range: [2011, 2021], tickmode: 'array', tickvals: yearTicks, ticktext: yearLabels,
      ticklabelstandoff: -4
    });
    layout['yaxis' + sfx] = Object.assign({}, axisBase, {
      domain: [py(bot), py(top)], anchor: xa,
      range: [c.range[0] - 0.0004, c.range[1] + 0.0004],
      tick0: 0, dtick: 0.1, tickformat: '.1f'
    });

    layout.annotations.push({
      text: compLabels[k], xref: 'paper', yref: 'paper', x: px(st.labelX), y: py((top + bot) / 2),
      xanchor: 'center', yanchor: 'middle', textangle: -90, showarrow: false, font: { size: 19, color: 'black' }
    });

    const left = pick(c, -Infinity, t0);
    const mid = pick(c, t0, t1);
    const right = pick(c, t1, Infinity);

    band(left, PINK_BAND, xa, ya);
    band(right, PINK_BAND, xa, ya);
    band(mid, BLUE_BAND, xa, ya);
    curve(left, PINK, 1.3, xa, ya);
    curve(right, PINK, 1.3, xa, ya);
    curve(mid, BLUE, 1.6, xa, ya);

    traces.push({
      x: st.t, y: c.y, mode: 'markers', xaxis: xa, yaxis: ya,
      marker: { color: 'black', size: 8.5 }, hoverinfo: 'x+y'
    });
    if (c.yd) {
      traces.push({
        x: st.td, y: c.yd, mode: 'markers', xaxis: xa, yaxis: ya,
        marker: { color: RED, size: 10, symbol: 'diamond' }, hoverinfo: 'x+y'
      });
    }
  });
});

Plotly.newPlot('chart', traces, layout, { displayModeBar: false, staticPlot: true });
</script>
</body>
</html>
